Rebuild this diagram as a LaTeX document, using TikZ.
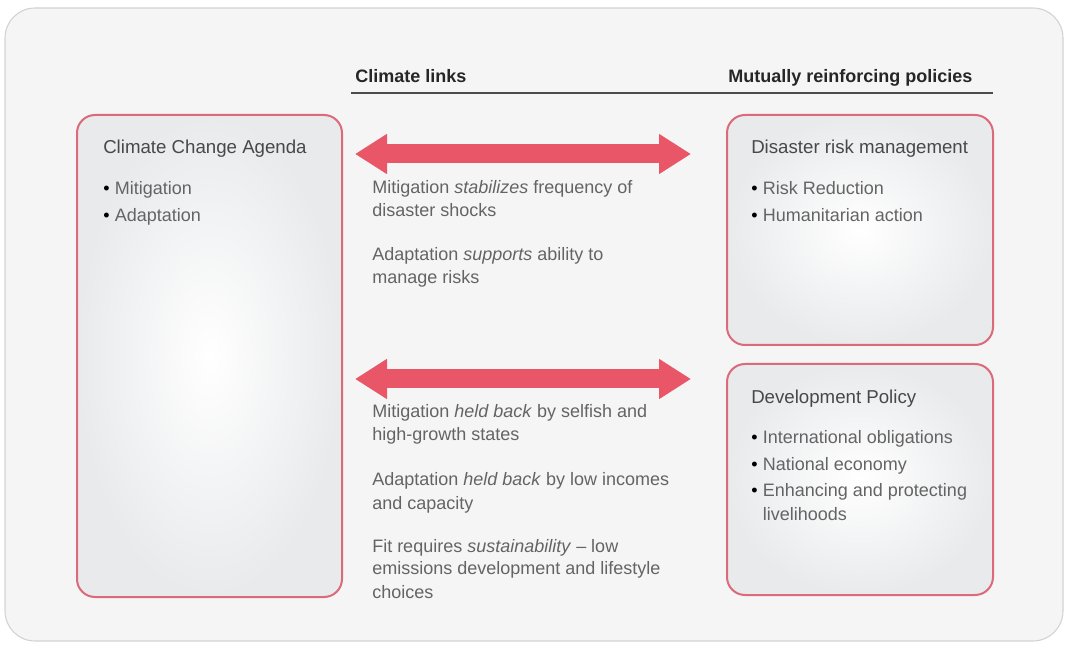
\documentclass[tikz,border=0pt]{standalone}
\usepackage{fontspec}
\setmainfont{Liberation Sans}
\usepackage{tikz}
\usetikzlibrary{arrows.meta}
\usepackage{xcolor}

\definecolor{framegray}{RGB}{245,245,245}
\definecolor{boxgray}{RGB}{233,234,236}
\definecolor{boxred}{RGB}{219,106,122}
\definecolor{arrowred}{RGB}{232,86,104}
\definecolor{textgray}{RGB}{100,100,100}
\definecolor{titlegray}{RGB}{72,72,72}

\newcommand{\itm}{{\color{black}\textbullet}\hspace{4pt}}

\begin{document}
\begin{tikzpicture}[x=0.75pt,y=-0.75pt,
    box/.style={draw=boxred, line width=1.5pt, rounded corners=13.5pt, shade, inner color=white, outer color=boxgray},
    title/.style={inner sep=0pt, text=titlegray, font=\fontsize{14}{17.25}\selectfont},
    items/.style={inner sep=0pt, align=left, text=textgray, font=\fontsize{13.5}{17.25}\selectfont},
    para/.style={inner sep=0pt, align=left, text=textgray, font=\fontsize{13.5}{17.25}\selectfont},
    head/.style={inner sep=0pt, text=black!85, font=\bfseries\fontsize{13.5}{16}\selectfont},
    bigarrow/.style={arrowred, line width=14.25pt, {Triangle[length=24pt,width=28.5pt]}-{Triangle[length=24pt,width=28.5pt]}}]
    \useasboundingbox (0,0) rectangle (1065,645);
    \draw[fill=framegray, draw=gray!35, line width=0.8pt, rounded corners=22.5pt] (5,8) rectangle (1063,641);
    % headers
    \node[head, anchor=base west] (links) at (355,83) {Climate links};
    \node[head, anchor=base west] (policies) at (728,83) {Mutually reinforcing policies};
    \coordinate (rulel) at (351,93);
    \coordinate (ruler) at (993,93);
    \draw[black!70, line width=1pt] (rulel) -- (ruler);
    % boxes
    \node[box, minimum width=198.75pt, minimum height=361.5pt] (cca) at (209.5,356) {};
    \node[box, minimum width=199.5pt, minimum height=172.5pt] (drm) at (860,230) {};
    \node[box, minimum width=199.5pt, minimum height=173.25pt] (dev) at (860,479.5) {};
    % base anchor = last line
    \node[title, anchor=base west] (ccat) at (103,154) {Climate Change Agenda};
    \node[items, anchor=base west] (ccal) at (103,222) {\itm Mitigation\\[3pt] \itm Adaptation};
    \node[title, anchor=base west] (drmt) at (751,154) {Disaster risk management};
    \node[items, anchor=base west] (drml) at (751,222) {\itm Risk Reduction\\[3pt] \itm Humanitarian action};
    \node[title, anchor=base west] (devt) at (751,404) {Development Policy};
    \node[items, anchor=base west] (devl) at (751,520) {\itm International obligations\\[3pt] \itm National economy\\[3pt] \itm Enhancing and protecting\\ \hphantom{\itm}livelihoods};
    % arrows
    \coordinate (a1l) at (355,154);
    \coordinate (a1r) at (691,154);
    \coordinate (a2l) at (355,379);
    \coordinate (a2r) at (691,379);
    \draw[bigarrow] (a1l) -- (a1r);
    \draw[bigarrow] (a2l) -- (a2r);
    % links text
    \node[para, anchor=base west] (p1) at (372,217) {Mitigation \emph{stabilizes} frequency of\\disaster shocks};
    \node[para, anchor=base west] (p2) at (372,284) {Adaptation \emph{supports} ability to\\manage risks};
    \node[para, anchor=base west] (p3) at (372,441) {Mitigation \emph{held back} by selfish and\\high-growth states};
    \node[para, anchor=base west] (p4) at (372,509) {Adaptation \emph{held back} by low incomes\\and capacity};
    \node[para, anchor=base west] (p5) at (372,598) {Fit requires \emph{sustainability} – low\\emissions development and lifestyle\\choices};
\end{tikzpicture}
\end{document}
